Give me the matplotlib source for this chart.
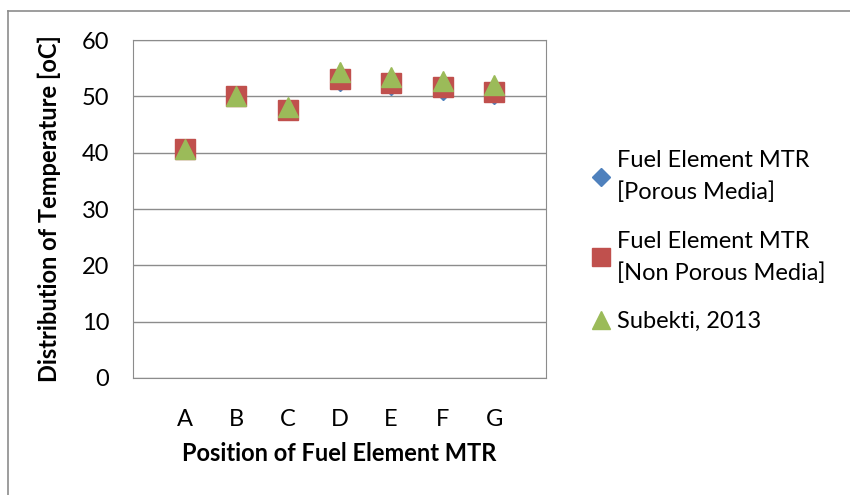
import matplotlib.pyplot as plt
from matplotlib.lines import Line2D

positions = ['A', 'B', 'C', 'D', 'E', 'F', 'G']
porous = [40.6, 49.9, 47.6, 52.5, 51.8, 51.0, 50.2]
non_porous = [40.7, 50.0, 47.6, 53.1, 52.4, 51.6, 50.8]
subekti = [40.7, 50.0, 48.1, 54.4, 53.5, 52.7, 52.0]

plt.rcParams['font.family'] = ['Lato', 'DejaVu Sans']

fig = plt.figure(figsize=(8.5, 4.95), dpi=100)
# chart border (only top and left edges are visible in the crop)
fig.add_artist(Line2D([7.5 / 850, 7.5 / 850], [0, 1 - 10.5 / 495], color='#8c8c8c', lw=1.2))
fig.add_artist(Line2D([7.5 / 850, 1], [1 - 10.5 / 495, 1 - 10.5 / 495], color='#8c8c8c', lw=1.2))
ax = fig.add_axes([133 / 850, 1 - 378 / 495, 413 / 850, 338 / 495])

x = range(1, len(positions) + 1)
ax.plot(x, porous, linestyle='none', marker='D', markersize=8.8, color='#4f81bd',
        label='Fuel Element MTR\n[Porous Media]', zorder=3)
ax.plot(x, non_porous, linestyle='none', marker='s', markersize=14.4, color='#c0504d',
        label='Fuel Element MTR\n[Non Porous Media]', zorder=4)
ax.plot(x, subekti, linestyle='none', marker='^', markersize=15, color='#9bbb59',
        label='Subekti, 2013', zorder=5)

ax.set_xlim(0, 8)
ax.set_ylim(0, 60)
ax.set_xticks(list(x))
ax.set_xticklabels(positions)
ax.set_yticks(range(0, 61, 10))
ax.yaxis.grid(True, color='#8c8c8c', linewidth=1)
ax.set_axisbelow(True)
for s in ax.spines.values():
    s.set_color('#8c8c8c')
ax.tick_params(length=0, labelsize=17, colors='black')
ax.tick_params(axis='y', pad=17)
ax.tick_params(axis='x', pad=22)

ax.set_xlabel('Position of Fuel Element MTR', fontsize=17, fontweight='bold', labelpad=9)
ax.set_ylabel('Distribution of Temperature [oC]', fontsize=17, fontweight='bold', labelpad=15)

leg = ax.legend(loc='center left', bbox_to_anchor=(1.09, 0.405), frameon=False, fontsize=17,
                handlelength=0.7, handletextpad=0.35, labelspacing=1.15, markerscale=0.9,
                borderaxespad=0)
leg.legend_handles[0].set_markersize(8.8)
for t in leg.get_texts():
    t.set_linespacing(1.6)

fig.savefig('out.png', dpi=100)
